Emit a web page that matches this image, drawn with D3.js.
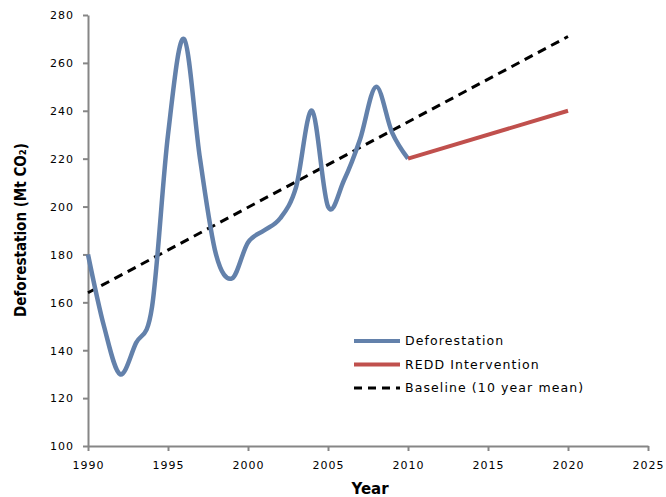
<!DOCTYPE html>
<html><head><meta charset="utf-8">
<script src="https://cdn.jsdelivr.net/npm/d3@7"></script>
<style>body{margin:0;background:#fff}svg{display:block}</style>
</head><body>
<svg id="c" width="666" height="497"></svg>
<script>
const years = [1990,1991,1992,1993,1994,1995,1996,1997,1998,1999,2000,2001,2002,2003,2004,2005,2006,2007,2008,2009,2010];
const deforestation = [180,150,130,143,158,230,270,220,180,170,185,190,195,208,240,200,211,228,250,231,220];
const reddYears = [2010,2020];
const reddValues = [220,240];
const baselineYears = [1990,2020];
const baselineValues = [164,271];
const xTicks = [1990,1995,2000,2005,2010,2015,2020,2025];
const yTicks = [100,120,140,160,180,200,220,240,260,280];
const legendLabels = ["Deforestation","REDD Intervention","Baseline (10 year mean)"];

const svg = d3.select("#c");
const x = d3.scaleLinear().domain([1990,2025]).range([88,648]);
const y = d3.scaleLinear().domain([100,280]).range([446,15]);
const axisColor = "#868686";
const font = "Verdana, 'DejaVu Sans', sans-serif";

const gx = svg.append("g").attr("transform","translate(0,446)")
  .call(d3.axisBottom(x).tickValues(xTicks).tickFormat(d3.format("d")).tickSize(5).tickSizeOuter(0));
const gy = svg.append("g").attr("transform","translate(88,0)")
  .call(d3.axisLeft(y).tickValues(yTicks).tickSize(5).tickSizeOuter(0));
[gx,gy].forEach(g=>{
  g.selectAll("path,line").attr("stroke",axisColor).attr("stroke-width",2);
  g.selectAll("text").attr("fill","#000").style("font-family",font).style("font-size","11px").style("letter-spacing","1px");
});
gx.selectAll("text").attr("dy","1.35em");
gy.selectAll("text").attr("x",-14).attr("dy","0.35em");

const lineGen = d3.line().x(d=>x(d[0])).y(d=>y(d[1]));
svg.append("path").datum(baselineYears.map((d,i)=>[d,baselineValues[i]]))
  .attr("d",lineGen).attr("fill","none").attr("stroke","#000").attr("stroke-width",3).attr("stroke-dasharray","9,6");
svg.append("path").datum(years.map((d,i)=>[d,deforestation[i]]))
  .attr("d",lineGen.curve(d3.curveCardinal.tension(0))).attr("fill","none").attr("stroke","#6381AB").attr("stroke-width",4.5).attr("stroke-linejoin","round");
svg.append("path").datum(reddYears.map((d,i)=>[d,reddValues[i]]))
  .attr("d",d3.line().x(d=>x(d[0])).y(d=>y(d[1]))).attr("fill","none").attr("stroke","#C0504D").attr("stroke-width",4);

const styles = [{c:"#6381AB",w:4,da:null},{c:"#C0504D",w:4,da:null},{c:"#000",w:3,da:"8,6"}];
const lg = svg.append("g");
legendLabels.forEach((t,i)=>{
  const yy = 341 + i*23.5;
  lg.append("line").attr("x1",354).attr("x2",400).attr("y1",yy).attr("y2",yy)
    .attr("stroke",styles[i].c).attr("stroke-width",styles[i].w).attr("stroke-dasharray",styles[i].da);
  lg.append("text").attr("x",405).attr("y",yy).attr("dy","0.35em").text(t)
    .style("font-family",font).style("font-size","12.5px").style("letter-spacing","1.1px").attr("fill","#000");
});

svg.append("text").attr("transform","translate(26,230) rotate(-90)").attr("text-anchor","middle")
  .style("font-family","'DejaVu Sans Condensed', 'DejaVu Sans', sans-serif").style("font-weight","bold").style("font-size","15px")
  .text("Deforestation (Mt CO₂)");
svg.append("text").attr("x",370).attr("y",494).attr("text-anchor","middle")
  .style("font-family",font).style("font-weight","bold").style("font-size","15px").text("Year");
</script>
</body></html>
